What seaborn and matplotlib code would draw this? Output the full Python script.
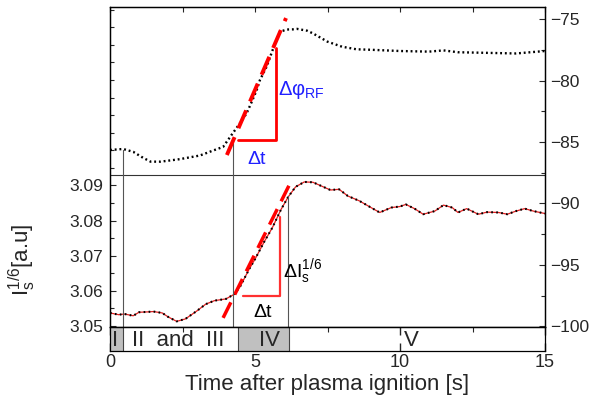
import numpy as np
import pandas as pd
import matplotlib
matplotlib.use('Agg')
import matplotlib.pyplot as plt
from matplotlib.ticker import MultipleLocator, FixedLocator
import seaborn as sns

sns.set_style('ticks')
plt.rcParams['font.family'] = ['Liberation Sans', 'DejaVu Sans']
plt.rcParams['mathtext.default'] = 'regular'

# upper trace: RF phase (right axis, deg)
t_phase = [0, 0.45, 0.8, 1.15, 1.4, 1.75, 2.4, 3.1, 3.55, 3.9, 4.19, 4.48, 4.71, 4.89,
           5.06, 5.17, 5.40, 5.63, 5.86, 6.1, 6.3, 6.45, 6.8, 7.0, 7.5, 8.0, 8.5, 9.0,
           10.0, 11.0, 11.5, 12.0, 13.0, 14.0, 15.0]
phase = [-85.65, -85.57, -85.8, -86.3, -86.6, -86.6, -86.4, -86.1, -85.7, -85.4, -84.43,
         -83.48, -82.67, -81.72, -80.77, -79.96, -78.88, -77.38, -76.03, -75.85, -75.84,
         -75.8, -75.95, -76.17, -76.84, -77.25, -77.46, -77.5, -77.6, -77.65, -77.55,
         -77.7, -77.75, -77.8, -77.6]

# lower trace: I_s^(1/6) (left axis)
t_is = [0, 0.3, 0.5, 0.8, 1.0, 1.3, 1.5, 1.8, 2.0, 2.3, 2.6, 3.0, 3.3, 3.6, 4.0, 4.3,
        4.5, 4.8, 5.0, 5.3, 5.6, 5.9, 6.15, 6.4, 6.7, 7.0, 7.3, 7.6, 7.9, 8.2, 8.6, 9.0,
        9.3, 9.7, 10.0, 10.2, 10.5, 10.8, 11.2, 11.5, 11.8, 12.0, 12.3, 12.7, 13.0, 13.4,
        13.7, 14.0, 14.3, 14.6, 15.0]
is_val = [3.0537, 3.0532, 3.0534, 3.0529, 3.0539, 3.0540, 3.0541, 3.0537, 3.0526, 3.0513,
          3.0520, 3.0543, 3.0562, 3.0572, 3.0577, 3.0591, 3.0614, 3.0662, 3.0690, 3.0737,
          3.0780, 3.0832, 3.0868, 3.0896, 3.0910, 3.0909, 3.0898, 3.0887, 3.0889, 3.0870,
          3.0856, 3.0837, 3.0823, 3.0837, 3.0840, 3.0846, 3.0834, 3.0818, 3.0827, 3.0844,
          3.0837, 3.0823, 3.0834, 3.0818, 3.0824, 3.0823, 3.0818, 3.0827, 3.0834, 3.0827,
          3.0820]

# slope fits and triangles
fit_phase_t = [4.03, 6.07]
fit_phase = [-86.06, -74.92]
fit_is_t = [3.9, 6.24]
fit_is = [3.0523, 3.0911]
tri_phase_t = [4.41, 5.72, 5.72]
tri_phase = [-84.84, -84.84, -77.36]
tri_is_t = [4.59, 5.86, 5.86]
tri_is = [3.0585, 3.0585, 3.0809]

# guide lines
sep_is = 3.0931
mark_t = [0.45, 4.24, 6.15]
mark_top = [3.1002, 3.1022, 3.0869]

# phases strip
region_edges = [0, 0.45, 4.41, 6.17, 15]
region_labels = ['I', 'II  and  III', 'IV', 'V']
region_label_t = [0.17, 2.35, 5.5, 10.38]
region_shaded = [True, False, True, False]

df_phase = pd.DataFrame({'t': t_phase, 'v': phase})
df_is = pd.DataFrame({'t': t_is, 'v': is_val})

fig = plt.figure(figsize=(5.9, 4.03), dpi=100)
ax = fig.add_axes([110/590, 1-327/403, 435/590, 320/403])
axs = fig.add_axes([110/590, 1-351/403, 435/590, 24/403], sharex=ax)
ax2 = ax.twinx()

# lower trace
sns.lineplot(data=df_is, x='t', y='v', ax=ax, color='#e02020', lw=0.9)
sns.lineplot(data=df_is, x='t', y='v', ax=ax, color='black', lw=1.5, ls=(0, (0.8, 1.6)))
ax.plot(fit_is_t, fit_is, color='red', lw=2.5, dashes=(5, 2.5))
ax.plot(tri_is_t, tri_is, color='#ff3030', lw=1.6)
ax.axhline(sep_is, color='#333333', lw=0.8)
for t, top in zip(mark_t, mark_top):
    ax.plot([t, t], [3.0497, top], color='#555555', lw=0.8)

# upper trace
sns.lineplot(data=df_phase, x='t', y='v', ax=ax2, color='black', lw=1.7, ls=(0, (0.8, 1.2)))
ax2.plot(fit_phase_t, fit_phase, color='red', lw=2.8, dashes=(5, 2.5))
ax2.plot(tri_phase_t, tri_phase, color='red', lw=2)

ax2.text(5.07, -86.4, 'Δt', color='#2020ff', fontsize=14, ha='center', va='center')
ax2.text(5.79, -80.77, 'Δφ$_{RF}$', color='#2020ff', fontsize=14.5, ha='left', va='center')
ax.text(5.28, 3.0537, 'Δt', color='black', fontsize=14, ha='center', va='center')
ax.text(5.95, 3.0656, 'ΔI$_s^{1/6}$', color='black', fontsize=14, ha='left', va='center')

ax.set_xlim(0, 15)
ax.set_ylim(3.0497, 3.1408)
ax2.set_ylim(-100.05, -74.02)

ax.yaxis.set_major_locator(FixedLocator([3.05, 3.06, 3.07, 3.08, 3.09]))
ax.yaxis.set_minor_locator(MultipleLocator(0.005))
ax.set_yticklabels(['3.05', '3.06', '3.07', '3.08', '3.09'])
ax.xaxis.set_major_locator(MultipleLocator(5))
ax.xaxis.set_minor_locator(MultipleLocator(2.5))
ax.tick_params(axis='x', which='both', direction='in', bottom=False, top=True,
               labelbottom=False, length=3.5, width=0.8)
ax.tick_params(axis='y', which='major', direction='in', length=4.5, width=0.8,
               labelsize=12.5, pad=5, right=False)
ax.tick_params(axis='y', which='minor', direction='in', length=3, width=0.8, right=False)
ax.set_xlabel('')
ax.set_ylabel('I$_s^{1/6}$[a.u]', fontsize=16)
ax.yaxis.set_label_coords(-0.165, 0.21)

ax2.yaxis.set_major_locator(MultipleLocator(5))
ax2.yaxis.set_minor_locator(MultipleLocator(2.5))
ax2.tick_params(axis='y', which='major', direction='in', length=4.5, width=0.8,
                labelsize=12.5, pad=4)
ax2.tick_params(axis='y', which='minor', direction='in', length=3, width=0.8)
ax2.set_ylabel('')

# phases strip
axs.set_ylim(0, 1)
for i, lab in enumerate(region_labels):
    if region_shaded[i]:
        axs.axvspan(region_edges[i], region_edges[i+1], color='#c0c0c0', lw=0)
    axs.text(region_label_t[i], 0.45, lab, fontsize=16, ha='center', va='center')
for e in region_edges[1:-1]:
    axs.axvline(e, color='#444444', lw=0.8)
axs.set_yticks([])
axs.tick_params(axis='x', which='major', direction='in', top=True, bottom=True,
                length=6, width=1, labelsize=13, pad=2)
axs.tick_params(axis='x', which='minor', direction='in', top=True, bottom=False,
                length=3.5, width=0.8)
axs.set_xlabel('Time after plasma ignition [s]', fontsize=16, labelpad=2)

for a in (ax, ax2, axs):
    for s in a.spines.values():
        s.set_linewidth(0.9)
        s.set_color('black')

fig.savefig('out.png', dpi=100)
